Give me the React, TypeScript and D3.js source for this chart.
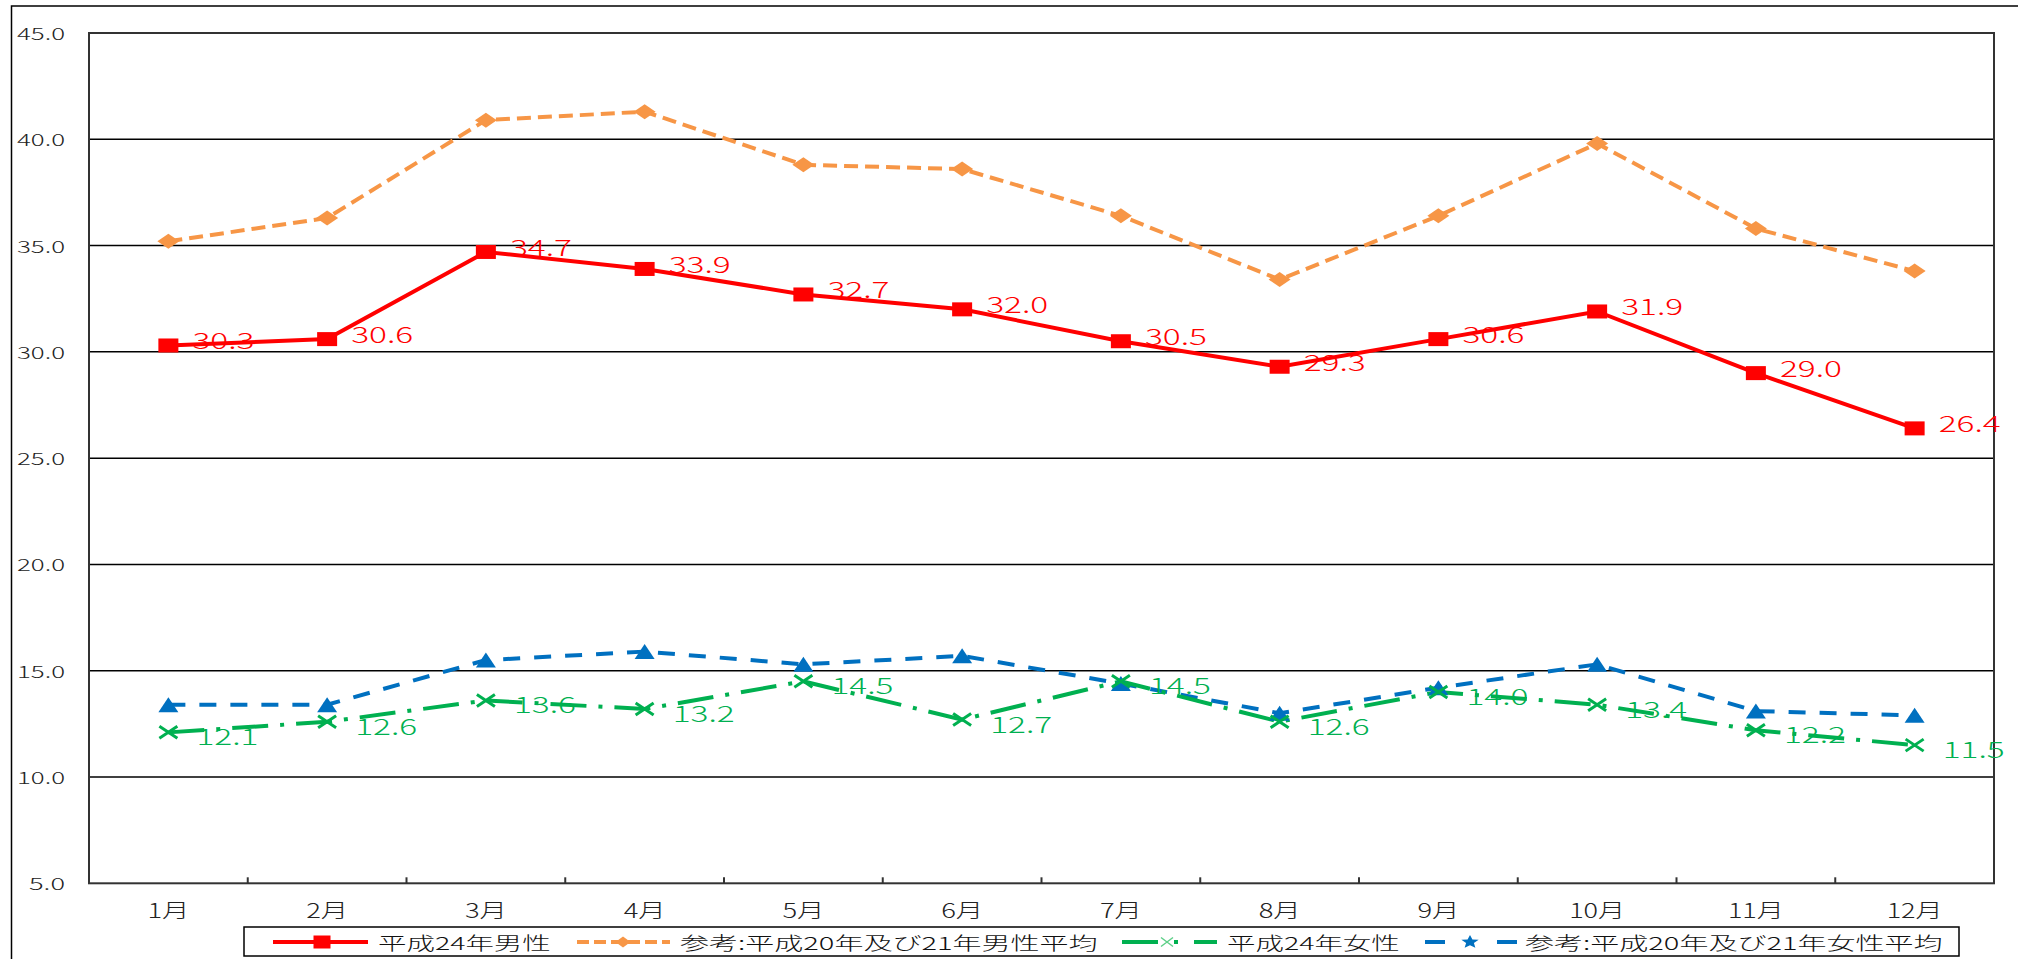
import React from 'react';
import * as d3 from 'd3';

const months = ['1月', '2月', '3月', '4月', '5月', '6月', '7月', '8月', '9月', '10月', '11月', '12月'];
const male2012 = [30.3, 30.6, 34.7, 33.9, 32.7, 32.0, 30.5, 29.3, 30.6, 31.9, 29.0, 26.4];
const maleRef = [35.2, 36.3, 40.9, 41.3, 38.8, 38.6, 36.4, 33.4, 36.4, 39.8, 35.8, 33.8];
const female2012 = [12.1, 12.6, 13.6, 13.2, 14.5, 12.7, 14.5, 12.6, 14.0, 13.4, 12.2, 11.5];
const femaleRef = [13.4, 13.4, 15.5, 15.9, 15.3, 15.7, 14.4, 13.0, 14.2, 15.3, 13.1, 12.9];
const yTicks = [5, 10, 15, 20, 25, 30, 35, 40, 45];
const seriesNames = [
  '平成24年男性',
  '参考:平成20年及び21年男性平均',
  '平成24年女性',
  '参考:平成20年及び21年女性平均',
];

const W = 2018;
const H = 959;
const PL = 89, PR = 1994, PT = 33, PB = 883.3;
const FONT = '"Noto Sans CJK JP", "Noto Sans", sans-serif';
const RED = '#FF0000';
const ORANGE = '#F79646';
const GREEN = '#00B050';
const BLUE = '#0070C0';

const units = (s: string) => Array.from(s).reduce((a, c) => a + (c.charCodeAt(0) < 0x2e80 ? 1 : 2), 0);

function T({ x, y, unit, size, fill, anchor = 'start', children }: any) {
  const s = String(children);
  const w = units(s) * unit;
  const x0 = anchor === 'end' ? x - w : anchor === 'middle' ? x - w / 2 : x;
  return (
    <text x={x0} y={y} fontSize={size} fill={fill} dominantBaseline="central" textLength={w}
      lengthAdjust="spacingAndGlyphs" fontFamily={FONT} fontWeight={300}>{s}</text>
  );
}

const square = (x: number, y: number, w: number, h: number, c: string) =>
  <rect x={x - w / 2} y={y - h / 2} width={w} height={h} fill={c} />;
const diamond = (x: number, y: number, w: number, h: number, c: string) =>
  <path d={`M${x - w / 2},${y}L${x},${y - h / 2}L${x + w / 2},${y}L${x},${y + h / 2}Z`} fill={c} />;
const triangle = (x: number, y: number, w: number, h: number, c: string) =>
  <path d={`M${x - w / 2},${y + h / 2}L${x},${y - h / 2}L${x + w / 2},${y + h / 2}Z`} fill={c} />;
const cross = (x: number, y: number, w: number, h: number, c: string, sw: number) =>
  <path d={`M${x - w / 2},${y - h / 2}L${x + w / 2},${y + h / 2}M${x - w / 2},${y + h / 2}L${x + w / 2},${y - h / 2}`}
    stroke={c} strokeWidth={sw} fill="none" />;
const star = (x: number, y: number, r: number, c: string) => {
  const pts: string[] = [];
  for (let i = 0; i < 10; i++) {
    const rr = i % 2 === 0 ? r : r * 0.45;
    const a = -Math.PI / 2 + (i * Math.PI) / 5;
    pts.push(`${x + rr * Math.cos(a) * 1.3},${y + rr * Math.sin(a)}`);
  }
  return <polygon points={pts.join(' ')} fill={c} />;
};

export default function App() {
  const x = d3.scalePoint<string>().domain(months).range([PL, PR]).padding(0.5);
  const y = d3.scaleLinear().domain([5, 45]).range([PB, PT]);
  const step = x.step();
  const line = d3.line<number>().x((_, i) => x(months[i]) as number).y((d) => y(d));

  return (
    <svg width={W} height={H} style={{ position: 'absolute', left: 0, top: 0, background: '#fff' }}>
      <rect x={0} y={0} width={W} height={H} fill="#fff" />
      <path d={`M11.5,${H + 5}V6H${W + 5}`} stroke="#000" strokeWidth={1.5} fill="none" />

      {/* gridlines */}
      {yTicks.slice(1, -1).map((t) => (
        <line key={t} x1={PL} x2={PR} y1={y(t)} y2={y(t)} stroke="#000" strokeWidth={1.5} />
      ))}
      <rect x={PL} y={PT} width={PR - PL} height={PB - PT} fill="none" stroke="#333" strokeWidth={2} />
      {d3.range(1, 12).map((k) => (
        <line key={k} x1={PL + k * step} x2={PL + k * step} y1={PB} y2={PB - 6} stroke="#333" strokeWidth={2} />
      ))}

      {/* y tick labels */}
      {yTicks.map((t) => (
        <T key={t} x={65} y={y(t)} unit={12} size={16.5} fill="#222" anchor="end">{t.toFixed(1)}</T>
      ))}
      {/* x labels */}
      {months.map((m) => (
        <T key={m} x={x(m) as number} y={909} unit={14} size={20} fill="#222" anchor="middle">{m}</T>
      ))}

      {/* series lines */}
      <path d={line(maleRef) || ''} fill="none" stroke={ORANGE} strokeWidth={4} strokeDasharray="14 7" />
      <path d={line(femaleRef) || ''} fill="none" stroke={BLUE} strokeWidth={4} strokeDasharray="17 14" />
      <path d={line(female2012) || ''} fill="none" stroke={GREEN} strokeWidth={4} strokeDasharray="36 12 4 12" />
      <path d={line(male2012) || ''} fill="none" stroke={RED} strokeWidth={4} />

      {/* markers */}
      {maleRef.map((v, i) => <g key={'o' + i}>{diamond(x(months[i]) as number, y(v), 22, 15, ORANGE)}</g>)}
      {femaleRef.map((v, i) => <g key={'b' + i}>{triangle(x(months[i]) as number, y(v), 20, 15, BLUE)}</g>)}
      {female2012.map((v, i) => <g key={'g' + i}>{cross(x(months[i]) as number, y(v), 18, 12, GREEN, 3)}</g>)}
      {male2012.map((v, i) => <g key={'r' + i}>{square(x(months[i]) as number, y(v), 20, 14, RED)}</g>)}

      {/* data labels */}
      {male2012.map((v, i) => (
        <T key={'rl' + i} x={(x(months[i]) as number) + 24} y={y(v) - 6} unit={15.5} size={22} fill={RED}>{v.toFixed(1)}</T>
      ))}
      {female2012.map((v, i) => (
        <T key={'gl' + i} x={(x(months[i]) as number) + 28} y={y(v) + 3} unit={15.5} size={22} fill={GREEN}>{v.toFixed(1)}</T>
      ))}

      {/* legend */}
      <rect x={244} y={927} width={1715} height={29} fill="#fff" stroke="#000" strokeWidth={1.5} />
      <line x1={273} x2={368} y1={942} y2={942} stroke={RED} strokeWidth={4} />
      {square(322, 942, 17, 13, RED)}
      <T x={378} y={942} unit={14.4} size={18} fill="#111">{seriesNames[0]}</T>

      <line x1={577} x2={670} y1={942} y2={942} stroke={ORANGE} strokeWidth={4} strokeDasharray="12 5" />
      {diamond(623, 942, 15, 11, ORANGE)}
      <T x={680} y={942} unit={14.4} size={18} fill="#111">{seriesNames[1]}</T>

      <line x1={1122} x2={1217} y1={942} y2={942} stroke={GREEN} strokeWidth={4} strokeDasharray="36 16 4 16" />
      {cross(1167, 942, 12, 9, '#5FD08A', 1.5)}
      <T x={1227} y={942} unit={14.4} size={18} fill="#111">{seriesNames[2]}</T>

      <line x1={1425} x2={1517} y1={942} y2={942} stroke={BLUE} strokeWidth={4} strokeDasharray="20 52" />
      {star(1470, 942, 7, BLUE)}
      <T x={1525} y={942} unit={14.4} size={18} fill="#111">{seriesNames[3]}</T>
    </svg>
  );
}
